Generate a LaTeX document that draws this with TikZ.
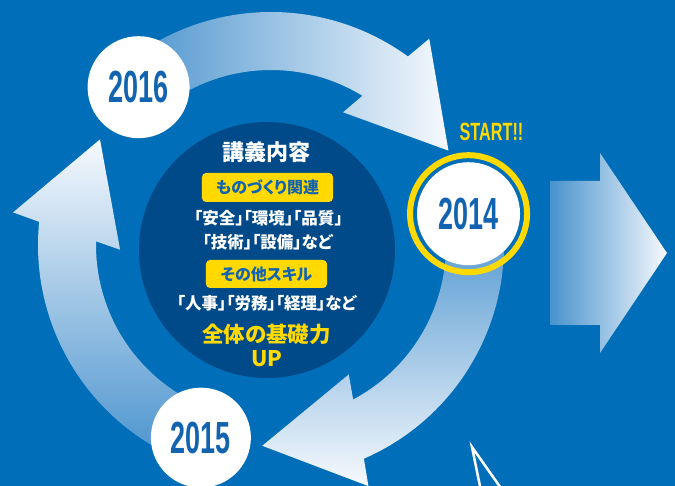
\documentclass[tikz,border=0pt]{standalone}
\usepackage{fontspec}
\setmainfont{Liberation Sans}
\newfontfamily\jpfont[RawFeature=+palt]{Noto Sans CJK JP}
\usepackage{graphicx}
\usetikzlibrary{positioning}
\definecolor{bgblue}{RGB}{0,110,184}
\definecolor{deepblue}{RGB}{0,74,138}
\definecolor{markyellow}{RGB}{255,217,0}
\definecolor{yearblue}{RGB}{18,100,176}
\definecolor{armblue}{RGB}{72,146,205}
\definecolor{armwhite}{RGB}{246,249,253}
\newcommand\outr{233}
\newcommand\innr{175}
\newcommand\cyclearrow[2]{(#1:\outr) arc[start angle=#1, end angle=#2+26, radius=\outr] -- (#2+24.5:260) -- (#2:201) -- (#2+33.5:151) -- (#2+30.5:\innr) arc[start angle=#2+30.5, end angle=#1, radius=\innr] -- cycle}

\begin{document}
\begin{tikzpicture}[x=1pt, y=1pt,
    yearball/.style={circle, fill=white, inner sep=0pt, minimum size=102pt, text=yearblue, font=\bfseries\fontsize{45}{45}\selectfont},
    tagbox/.style={fill=markyellow, rounded corners=4pt, inner sep=0pt, minimum height=29pt, text=yearblue, font=\jpfont\bfseries\fontsize{16}{16}\selectfont},
    bodytext/.style={text=white, inner sep=0pt, font=\jpfont\bfseries\fontsize{16.5}{16.5}\selectfont},
    boldtext/.style={text=markyellow, inner sep=0pt, text height=16pt, text depth=1pt, font=\jpfont\bfseries\fontsize{21.5}{21.5}\selectfont}]

    \useasboundingbox (-271,-241) rectangle (404,245);
    \clip (-271,-241) rectangle (404,245);
    \fill[bgblue] (-271,-241) rectangle (404,245);

    % Cycle
    \shade[left color=armblue, right color=armwhite] \cyclearrow{130}{28};
    \shade[top color=armblue, bottom color=armwhite] \cyclearrow{9}{-92.5};
    \shade[bottom color=armblue, top color=armwhite] \cyclearrow{250}{148.3};

    \node[yearball] (y16) at (130:206) {\scalebox{0.6}[1]{2016}};
    \node[yearball, minimum size=103pt] (y14) at (9:200) {\scalebox{0.6}[1]{2014}};
    \node[yearball, minimum size=100pt] (y15) at (250:205) {\scalebox{0.6}[1]{2015}};
    \draw[markyellow, line width=6pt] (y14.center) circle (58.5);
    \node[text=markyellow, inner sep=0pt, font=\bfseries\fontsize{25}{25}\selectfont] (start) at (220.5,113) {\scalebox{0.65}[1]{START!!}};

    %Center
    \node[circle, fill=deepblue, minimum size=256pt] (core) at (-4,-5) {};
    \node[bodytext, font=\jpfont\bfseries\fontsize{22}{22}\selectfont] (title) at (-4,92.5) {講義内容};
    \node[tagbox, minimum width=131pt] (tag1) at (-3.5,57.5) {ものづくり関連};
    \node[bodytext] (line1) at (-2.5,27) {「安全」「環境」「品質」};
    \node[bodytext] (line2) at (-3.5,3) {「技術」「設備」など};
    \node[tagbox, minimum width=121pt, minimum height=28pt] (tag2) at (-4.5,-29) {その他スキル};
    \node[bodytext] (line3) at (-4.5,-58) {「人事」「労務」「経理」など};
    \node[boldtext] (goal) at (-4.5,-90.5) {全体の基礎力};
    \node[boldtext] (up) at (-4,-114) {UP};

    %Next
    \shade[left color=armblue, right color=armwhite] (279,64) -- (329,64) -- (329,92) -- (396,-8) -- (329,-108) -- (329,-80) -- (279,-80) -- cycle;
    \draw[white, line width=2.5pt] (212,-256) -- (201,-202) -- (239,-256);

\end{tikzpicture}
\end{document}
